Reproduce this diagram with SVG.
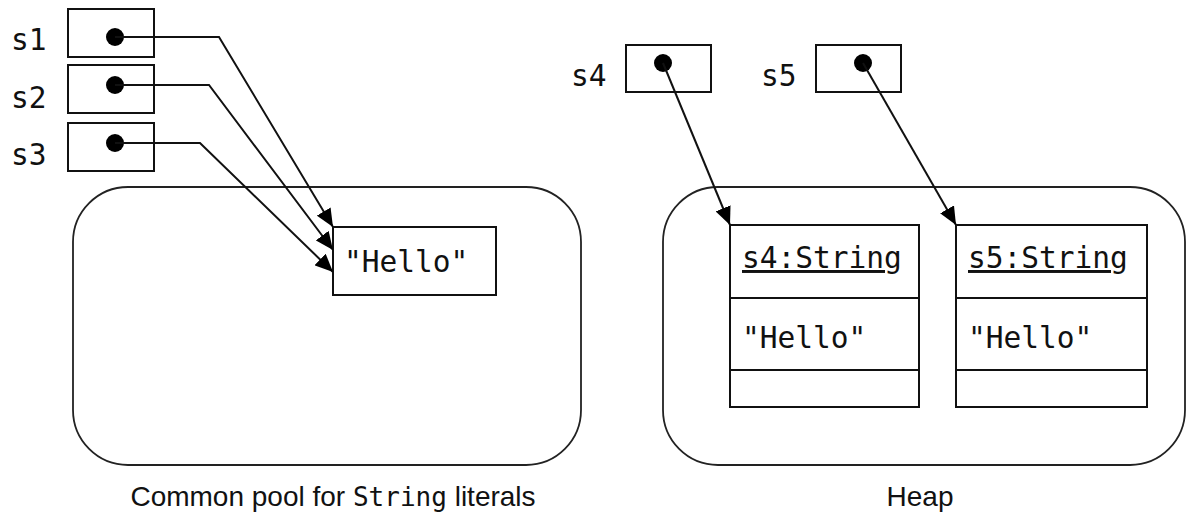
<svg xmlns="http://www.w3.org/2000/svg" width="1188" height="516" viewBox="0 0 1188 516">
<style>
.box{fill:none;stroke:#111;stroke-width:2}
.area{fill:none;stroke:#222;stroke-width:1.8}
.mono{font-family:"DejaVu Sans Mono","Liberation Mono",monospace;font-size:29.5px;fill:#111}
.sans{font-family:"Liberation Sans","Open Sans",sans-serif;font-size:28px;fill:#111}
.dot{fill:#000}
.conn{fill:none;stroke:#111;stroke-width:2}
</style>
<defs>
<marker id="ah" markerUnits="userSpaceOnUse" markerWidth="20" markerHeight="16" refX="18" refY="8" orient="auto">
<path d="M0,0 L18,8 L0,16 Z" fill="#000"/>
</marker>
</defs>
<rect width="1188" height="516" fill="#fff"/>
<g id="pool">
<rect class="area" x="73" y="187" width="508" height="278" rx="55"/>
<text class="sans" x="333" y="506" text-anchor="middle">Common pool for <tspan style="font-family:'DejaVu Sans Mono','Liberation Mono',monospace;font-size:26px">String</tspan> literals</text>
</g>
<g id="heap">
<rect class="area" x="663" y="187" width="522" height="278" rx="55"/>
<text class="sans" x="920" y="506" text-anchor="middle">Heap</text>
</g>
<g id="s1">
<text class="mono" x="11" y="50">s1</text>
<rect class="box" x="68" y="9" width="86" height="48"/>
<circle class="dot" cx="115" cy="37" r="9"/>
</g>
<g id="s2">
<text class="mono" x="11" y="108">s2</text>
<rect class="box" x="68" y="65" width="86" height="48"/>
<circle class="dot" cx="115" cy="85" r="9"/>
</g>
<g id="s3">
<text class="mono" x="11" y="165">s3</text>
<rect class="box" x="68" y="123" width="86" height="48"/>
<circle class="dot" cx="115" cy="143" r="9"/>
</g>
<g id="hello">
<rect class="box" x="333" y="227" width="163" height="68"/>
<text class="mono" x="344" y="272">"Hello"</text>
</g>
<g id="s4">
<text class="mono" x="571" y="86">s4</text>
<rect class="box" x="626" y="45" width="85" height="47"/>
<circle class="dot" cx="663" cy="63" r="9"/>
</g>
<g id="s5">
<text class="mono" x="761" y="86">s5</text>
<rect class="box" x="816" y="45" width="85" height="47"/>
<circle class="dot" cx="863" cy="63" r="9"/>
</g>
<g id="s4obj">
<rect class="box" x="730" y="225" width="189" height="182"/>
<line class="box" x1="730" y1="298" x2="919" y2="298"/>
<line class="box" x1="730" y1="370" x2="919" y2="370"/>
<text class="mono" x="742" y="268" text-decoration="underline">s4:String</text>
<text class="mono" x="742" y="348">"Hello"</text>
</g>
<g id="s5obj">
<rect class="box" x="956" y="225" width="191" height="182"/>
<line class="box" x1="956" y1="298" x2="1147" y2="298"/>
<line class="box" x1="956" y1="370" x2="1147" y2="370"/>
<text class="mono" x="968" y="268" text-decoration="underline">s5:String</text>
<text class="mono" x="968" y="348">"Hello"</text>
</g>
<g id="connectors">
<path class="conn" d="M115,37 L219,37 L333,227" marker-end="url(#ah)"/>
<path class="conn" d="M115,85 L209,85 L333,250" marker-end="url(#ah)"/>
<path class="conn" d="M115,143 L200,143 L333,272" marker-end="url(#ah)"/>
<path class="conn" d="M663,63 L730,225" marker-end="url(#ah)"/>
<path class="conn" d="M863,63 L956,225" marker-end="url(#ah)"/>
</g>
</svg>
